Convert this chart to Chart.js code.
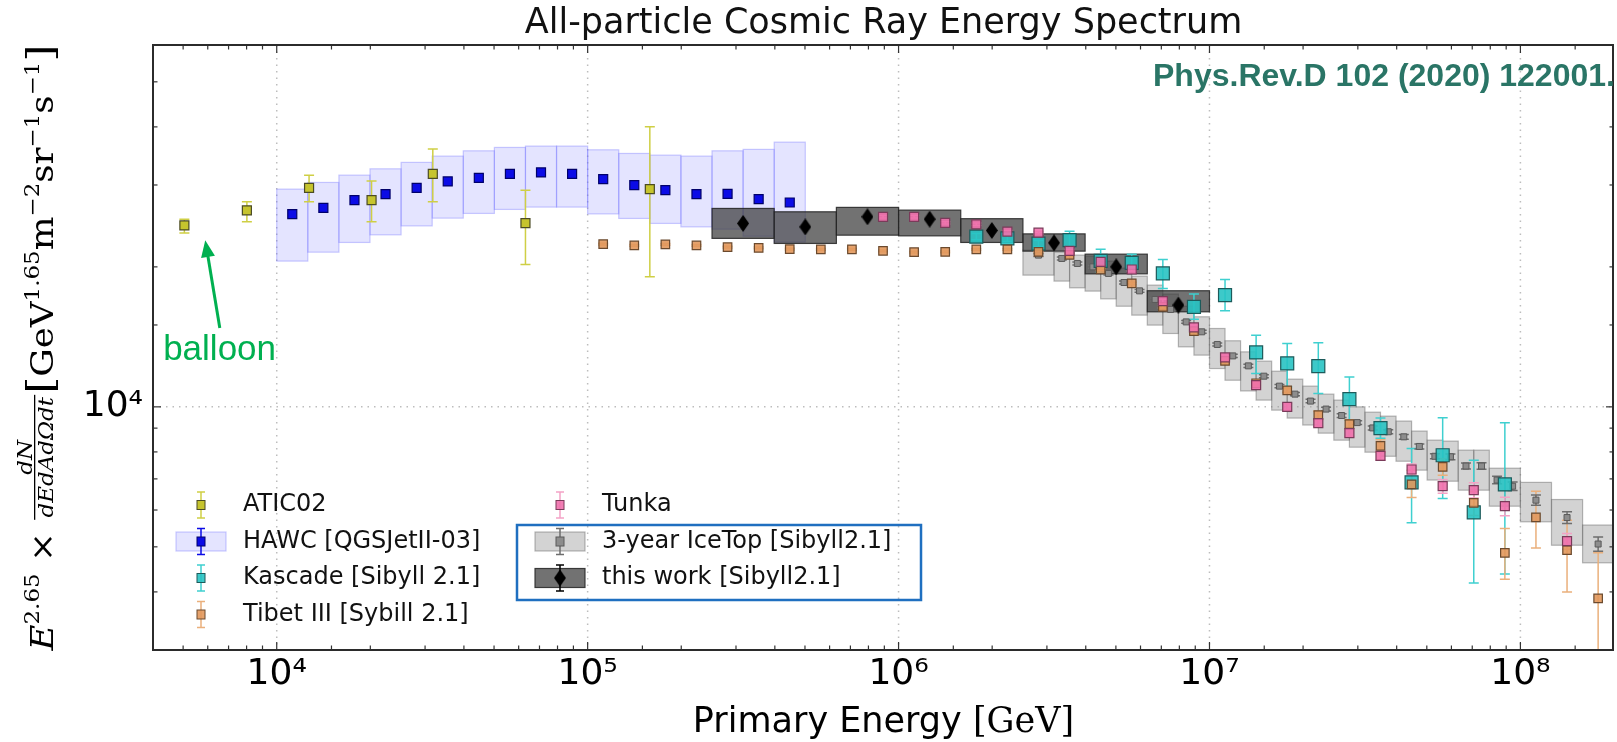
<!DOCTYPE html>
<html>
<head>
<meta charset="utf-8">
<title>All-particle Cosmic Ray Energy Spectrum</title>
<script src="https://cdn.jsdelivr.net/npm/chart.js@4.4.1/dist/chart.umd.min.js"></script>
<style>
  html, body { margin: 0; padding: 0; background: #fff; }
  canvas { display: block; }
</style>
</head>
<body>
<canvas id="spectrum" width="1617" height="742"></canvas>
<script>
// Energies are log10(E / GeV); fluxes are E^2.65 dN/dE in GeV^1.65 m^-2 sr^-1 s^-1

// ATIC-02 (balloon)
var aticLogE = [3.703, 3.904, 4.104, 4.305, 4.502, 4.800, 5.200];
var aticFlux = [24550, 26450, 29580, 27830, 31700, 24840, 29380];
var aticHi   = [25330, 27600, 31470, 30580, 35830, 29240, 40020];
var aticLo   = [23660, 25000, 27600, 25000, 27600, 20240, 19040];

// HAWC, 0.1 wide bins with systematic bands
var hawcLogE  = [4.05, 4.15, 4.25, 4.35, 4.45, 4.55, 4.65, 4.75, 4.85, 4.95, 5.05, 5.15, 5.25, 5.35, 5.45, 5.55, 5.65];
var hawcFlux  = [25970, 26790, 27830, 28670, 29580, 30530, 31080, 31700, 31920, 31700, 30880, 29980, 29240, 28670, 28710, 27970, 27510];
var hawcSysHi = [29390, 30380, 31500, 32500, 33550, 34610, 35530, 36130, 36370, 36370, 35710, 35070, 34780, 34610, 35530, 35780, 37090];
var hawcSysLo = [20580, 21510, 22570, 23440, 24500, 25460, 26060, 26580, 26890, 26890, 26000, 25420, 24800, 24380, 24110, 23280, 22610];
var hawcBinWidth = 0.1;

// KASCADE
var kascadeLogE = [6.25, 6.35, 6.45, 6.55, 6.65, 6.75, 6.85, 6.95, 7.05, 7.15, 7.25, 7.35, 7.45, 7.55, 7.65, 7.75, 7.85, 7.95];
var kascadeFlux = [23230, 23020, 22440, 22830, 20610, 20400, 19360, 16410, 17390, 13090, 12400, 12230, 10390, 9000, 6880, 7870, 5930, 6810];
var kascadeHi   = [23580, 23370, 22780, 23870, 21810, 21280, 20750, 17480, 18790, 14260, 13690, 13730, 11600, 9460, 8140, 9470, 7680, 9240];
var kascadeLo   = [22880, 22670, 22100, 21840, 19480, 19580, 17970, 15440, 16090, 11800, 11040, 10690, 9360, 8560, 5630, 6350, 4180, 4370];

// Tibet III
var tibetLogE = [5.05, 5.15, 5.25, 5.35, 5.45, 5.55, 5.65, 5.75, 5.85, 5.95, 6.05, 6.15, 6.25, 6.35, 6.45, 6.55, 6.65,
                 6.75, 6.85, 6.95, 7.05, 7.15, 7.25, 7.35, 7.45, 7.55, 7.65, 7.75, 7.85, 7.95, 8.05, 8.15, 8.25];
var tibetFlux = [22380, 22240, 22350, 22240, 22050, 21970, 21840, 21810, 21810, 21650, 21510, 21540, 21810, 21810, 21540, 21230, 19740,
                 18430, 16410, 14550, 12560, 11240, 10850, 9600, 9180, 8244, 6810, 7430, 6217, 4853, 5783, 4918, 3873];
var tibetErrHi = [100, 100, 100, 100, 100, 100, 100, 100, 100, 100, 100, 100, 100, 100, 100, 100, 100,
                  100, 100, 100, 100, 100, 100, 190, 200, 250, 500, 300, 350, 624, 804, 788, 980];
var tibetErrLo = [100, 100, 100, 100, 100, 100, 100, 100, 100, 100, 100, 100, 100, 100, 100, 100, 100,
                  100, 100, 100, 100, 100, 100, 190, 200, 250, 425, 300, 380, 593, 810, 918, 1073];

// Tunka-133
var tunkaLogE = [5.95, 6.05, 6.15, 6.25, 6.35, 6.45, 6.55, 6.65, 6.75, 6.85, 6.95, 7.05, 7.15, 7.25, 7.35, 7.45, 7.55,
                 7.65, 7.75, 7.85, 7.95, 8.15];
var tunkaFlux = [25630, 25630, 24870, 24690, 23810, 23690, 21650, 20500, 19740, 16880, 14820, 12770, 11140, 10000, 9225, 8780, 7845,
                 7333, 6752, 6620, 6115, 5143];
var tunkaErr  = [150, 150, 150, 150, 150, 150, 150, 150, 150, 150, 150, 150, 150, 150, 150, 160, 170,
                 200, 230, 250, 280, 200];

// IceTop 3-year, bin edges and systematic bands
var iceTopEdges = [6.40, 6.50, 6.55, 6.60, 6.65, 6.70, 6.75, 6.80, 6.85, 6.90, 6.95, 7.00, 7.05, 7.10, 7.15, 7.20, 7.25, 7.30,
                   7.35, 7.40, 7.45, 7.50, 7.55, 7.60, 7.65, 7.70, 7.75, 7.80, 7.85, 7.90, 7.95, 8.00, 8.10, 8.20, 8.30];
var iceTopFlux  = [21200, 20850, 20340, 20000, 19360, 18510, 17760, 17020, 16200, 15230, 14500, 13620, 12870, 12250, 11640, 11080, 10650,
                   10290, 9890, 9580, 9250, 9010, 8840, 8620, 8220, 7830, 7810, 7460, 7460, 6960, 6750, 6300, 5780, 5070];
var iceTopErr   = [150, 150, 150, 140, 140, 130, 130, 120, 120, 110, 110, 100, 100, 100, 90, 90, 90,
                   90, 90, 90, 90, 90, 90, 100, 100, 100, 110, 110, 120, 130, 140, 160, 170, 180];
var iceTopSysHi = [21730, 21510, 21200, 21090, 20580, 19880, 19100, 18270, 17480, 16460, 15620, 14740, 13870, 13130, 12540, 11930, 11470,
                   11080, 10650, 10340, 10000, 9740, 9550, 9320, 8870, 8480, 8440, 8070, 8070, 7380, 7380, 6880, 6320, 5570];
var iceTopSysLo = [19200, 18640, 18030, 17740, 17070, 16460, 15750, 14990, 14380, 13460, 12920, 12090, 11410, 10820, 10340, 9840, 9460,
                   9140, 8780, 8480, 8190, 7990, 7830, 7640, 7310, 6960, 6920, 6620, 6620, 6115, 6115, 5660, 5040, 4620];

// this work, 0.2 wide bins
var workLogE  = [5.5, 5.7, 5.9, 6.1, 6.3, 6.5, 6.7, 6.9];
var workFlux  = [24800, 24380, 25630, 25330, 23950, 22530, 20000, 16550];
var workSysHi = [26710, 26270, 26850, 26490, 25390, 23550, 21300, 17770];
var workSysLo = [23030, 22460, 23400, 23320, 22570, 21620, 19320, 16010];
var workBinWidth = 0.2;

// axis ranges (GeV and flux units)
var energyRange = [4000, 2e8];
var fluxRange = [3000, 60000];

// "balloon" note anchors in data units
var balloonTip = { x: 5890, y: 22830 };
var balloonTail = { x: 6560, y: 14770 };
var balloonText = { x: 6550, y: 12600 };

var SANS = "'DejaVu Sans', sans-serif";
var SERIF = "'DejaVu Serif', 'Liberation Serif', serif";
var SUPERSCRIPT = { '0': '\u2070', '1': '\u00b9', '2': '\u00b2', '3': '\u00b3', '4': '\u2074',
                    '5': '\u2075', '6': '\u2076', '7': '\u2077', '8': '\u2078', '9': '\u2079' };

function isDecade(v) {
  var l = Math.log10(v);
  return Math.abs(l - Math.round(l)) < 1e-9;
}
function decadeLabel(v) {
  if (!isDecade(v)) return '';
  return '10' + String(Math.round(Math.log10(v))).split('').map(function (c) { return SUPERSCRIPT[c]; }).join('');
}
function toPoints(logE, flux) {
  return logE.map(function (l, i) { return { x: Math.pow(10, l), y: flux[i] }; });
}
function plus(a, b) { return a.map(function (v, i) { return v + b[i]; }); }
function minus(a, b) { return a.map(function (v, i) { return v - b[i]; }); }
function side(s) { return s / Math.SQRT2; }

var diamond = (function () {
  var c = document.createElement('canvas');
  c.width = 12; c.height = 17;
  var g = c.getContext('2d');
  g.fillStyle = '#000';
  g.beginPath();
  g.moveTo(6, 0); g.lineTo(12, 8.5); g.lineTo(6, 17); g.lineTo(0, 8.5);
  g.closePath(); g.fill();
  return c;
})();

var datasets = [
  {
    label: 'ATIC02', data: toPoints(aticLogE, aticFlux), order: 5,
    pointStyle: 'rect', pointRadius: side(9), backgroundColor: '#c6c42e', borderColor: '#4b4b25', pointBorderWidth: 1.2,
    errHi: aticHi, errLo: aticLo, errColor: '#cfcf45'
  },
  {
    label: 'HAWC [QGSJetII-03]', data: toPoints(hawcLogE, hawcFlux), order: 4,
    pointStyle: 'rect', pointRadius: side(9), backgroundColor: '#0b0be6', borderColor: '#00006a', pointBorderWidth: 1.2,
    errColor: '#0b0be6',
    sysHi: hawcSysHi, sysLo: hawcSysLo,
    binLo: hawcLogE.map(function (l) { return l - hawcBinWidth / 2; }),
    binHi: hawcLogE.map(function (l) { return l + hawcBinWidth / 2; }),
    boxFill: 'rgba(120,120,255,0.2)', boxStroke: 'rgba(110,110,255,0.35)'
  },
  {
    label: 'Kascade [Sibyll 2.1]', data: toPoints(kascadeLogE, kascadeFlux), order: 3,
    pointStyle: 'rect', pointRadius: side(13), backgroundColor: 'rgba(40,195,195,0.9)', borderColor: '#1d5b5b', pointBorderWidth: 1.2,
    errHi: kascadeHi, errLo: kascadeLo, errColor: '#3fd0d0'
  },
  {
    label: 'Tibet III [Sybill 2.1]', data: toPoints(tibetLogE, tibetFlux), order: 2,
    pointStyle: 'rect', pointRadius: side(8.5), backgroundColor: 'rgba(226,152,92,0.9)', borderColor: '#6b4a2e', pointBorderWidth: 1.2,
    errHi: plus(tibetFlux, tibetErrHi), errLo: minus(tibetFlux, tibetErrLo), errColor: '#eab07c'
  },
  {
    label: 'Tunka', data: toPoints(tunkaLogE, tunkaFlux), order: 1,
    pointStyle: 'rect', pointRadius: side(9), backgroundColor: 'rgba(239,112,172,0.9)', borderColor: '#7a3b5a', pointBorderWidth: 1.2,
    errHi: plus(tunkaFlux, tunkaErr), errLo: minus(tunkaFlux, tunkaErr), errColor: '#f4a3c6'
  },
  {
    label: '3-year IceTop [Sibyll2.1]', order: 6,
    data: toPoints(iceTopEdges.slice(0, -1).map(function (l, i) { return (l + iceTopEdges[i + 1]) / 2; }), iceTopFlux),
    pointStyle: 'rect', pointRadius: side(6), backgroundColor: '#8d8d8d', borderColor: '#5a5a5a', pointBorderWidth: 1,
    errHi: plus(iceTopFlux, iceTopErr), errLo: minus(iceTopFlux, iceTopErr), errColor: '#6e6e6e',
    sysHi: iceTopSysHi, sysLo: iceTopSysLo,
    binLo: iceTopEdges.slice(0, -1), binHi: iceTopEdges.slice(1),
    boxFill: 'rgba(150,150,150,0.42)', boxStroke: 'rgba(100,100,100,0.45)'
  },
  {
    label: 'this work [Sibyll2.1]', data: toPoints(workLogE, workFlux), order: 0,
    pointStyle: diamond, pointRadius: 8, backgroundColor: '#000', borderColor: '#000',
    errColor: '#000',
    sysHi: workSysHi, sysLo: workSysLo,
    binLo: workLogE.map(function (l) { return l - workBinWidth / 2; }),
    binHi: workLogE.map(function (l) { return l + workBinWidth / 2; }),
    boxFill: 'rgba(60,60,60,0.72)', boxStroke: 'rgba(35,35,35,0.85)'
  }
];

// systematic boxes are painted in this order: IceTop, HAWC, this work
var boxOrder = [5, 1, 6];
var legendEntries = [
  { ds: 0, col: 0, row: 0 }, { ds: 1, col: 0, row: 1 }, { ds: 2, col: 0, row: 2 }, { ds: 3, col: 0, row: 3 },
  { ds: 4, col: 1, row: 0 }, { ds: 5, col: 1, row: 1 }, { ds: 6, col: 1, row: 2 }
];

function line(ctx, x0, y0, x1, y1) {
  ctx.beginPath(); ctx.moveTo(x0, y0); ctx.lineTo(x1, y1); ctx.stroke();
}
function errorBar(ctx, x, yTop, yBot, cap) {
  ctx.beginPath();
  ctx.moveTo(x, yTop); ctx.lineTo(x, yBot);
  ctx.moveTo(x - cap, yTop); ctx.lineTo(x + cap, yTop);
  ctx.moveTo(x - cap, yBot); ctx.lineTo(x + cap, yBot);
  ctx.stroke();
}

var underlayPlugin = {
  id: 'underlay',
  beforeDatasetsDraw: function (chart) {
    var ctx = chart.ctx, a = chart.chartArea, xs = chart.scales.x, ys = chart.scales.y;
    ctx.save();
    ctx.beginPath();
    ctx.rect(a.left, a.top, a.right - a.left, a.bottom - a.top);
    ctx.clip();

    // dotted grid at the decades
    ctx.setLineDash([1.5, 5]);
    ctx.strokeStyle = '#bdbdbd';
    ctx.lineWidth = 1.5;
    xs.ticks.forEach(function (t) {
      if (isDecade(t.value)) { var p = xs.getPixelForValue(t.value); line(ctx, p, a.top, p, a.bottom); }
    });
    ys.ticks.forEach(function (t) {
      if (isDecade(t.value)) { var p = ys.getPixelForValue(t.value); line(ctx, a.left, p, a.right, p); }
    });
    ctx.setLineDash([]);

    // systematic uncertainty boxes
    boxOrder.forEach(function (i) {
      var ds = chart.data.datasets[i];
      ctx.fillStyle = ds.boxFill;
      ctx.strokeStyle = ds.boxStroke;
      ctx.lineWidth = 1.2;
      ds.sysLo.forEach(function (lo, k) {
        var x0 = xs.getPixelForValue(Math.pow(10, ds.binLo[k]));
        var x1 = xs.getPixelForValue(Math.pow(10, ds.binHi[k]));
        var y0 = ys.getPixelForValue(ds.sysHi[k]);
        var y1 = ys.getPixelForValue(lo);
        ctx.fillRect(x0, y0, x1 - x0, y1 - y0);
        ctx.strokeRect(x0, y0, x1 - x0, y1 - y0);
      });
    });

    // statistical error bars
    chart.data.datasets.forEach(function (ds) {
      if (!ds.errHi) return;
      ctx.strokeStyle = ds.errColor;
      ctx.lineWidth = 1.5;
      ds.data.forEach(function (p, k) {
        var x = xs.getPixelForValue(p.x);
        errorBar(ctx, x, ys.getPixelForValue(ds.errHi[k]), ys.getPixelForValue(ds.errLo[k]), 5);
      });
    });
    ctx.restore();
  }
};

function drawFrame(chart) {
  var ctx = chart.ctx, a = chart.chartArea;
  ctx.save();
  ctx.strokeStyle = '#333';
  ctx.lineWidth = 1.2;
  ['x', 'y'].forEach(function (id) {
    var s = chart.scales[id];
    s.ticks.forEach(function (t) {
      var p = s.getPixelForValue(t.value), len = isDecade(t.value) ? 8 : 4.5;
      if (id === 'x') {
        if (p <= a.left + 1 || p >= a.right - 1) return;
        line(ctx, p, a.bottom, p, a.bottom - len);
        line(ctx, p, a.top, p, a.top + len);
      } else {
        if (p >= a.bottom - 1 || p <= a.top + 1) return;
        line(ctx, a.left, p, a.left + len, p);
        line(ctx, a.right, p, a.right - len, p);
      }
    });
  });
  ctx.lineWidth = 2;
  ctx.strokeStyle = '#2b2b2b';
  ctx.strokeRect(a.left, a.top, a.right - a.left - 1, a.bottom - a.top);
  ctx.restore();
}

function drawLegend(chart) {
  var ctx = chart.ctx, a = chart.chartArea;
  var colMarker = [a.left + 48, a.left + 407];
  var colText = [a.left + 90, a.left + 449];
  ctx.save();
  ctx.strokeStyle = '#1f6fc0';
  ctx.lineWidth = 2.5;
  ctx.strokeRect(a.left + 364, a.bottom - 125, 404, 75);
  legendEntries.forEach(function (e) {
    var ds = chart.data.datasets[e.ds];
    var x = colMarker[e.col], y = a.bottom - 145 + e.row * 36.5;
    if (ds.sysLo) {
      ctx.fillStyle = ds.boxFill;
      ctx.strokeStyle = ds.boxStroke;
      ctx.lineWidth = 1.2;
      ctx.fillRect(x - 25, y - 9.5, 50, 19);
      ctx.strokeRect(x - 25, y - 9.5, 50, 19);
    }
    ctx.strokeStyle = ds.errColor;
    ctx.lineWidth = 1.5;
    errorBar(ctx, x, y - 13, y + 13, 4);
    if (ds.pointStyle === diamond) {
      ctx.drawImage(diamond, x - 6, y - 8.5);
    } else {
      ctx.fillStyle = ds.backgroundColor;
      ctx.strokeStyle = ds.borderColor;
      ctx.lineWidth = 1;
      ctx.fillRect(x - 4, y - 4.5, 8, 9);
      ctx.strokeRect(x - 4, y - 4.5, 8, 9);
    }
    ctx.fillStyle = '#111';
    ctx.font = '24px ' + SANS;
    ctx.textAlign = 'left';
    ctx.textBaseline = 'middle';
    ctx.fillText(ds.label, colText[e.col], y);
  });
  ctx.restore();
}

function drawNotes(chart) {
  var ctx = chart.ctx, a = chart.chartArea, xs = chart.scales.x, ys = chart.scales.y;
  ctx.save();
  // journal reference, top right
  ctx.fillStyle = '#2a7566';
  ctx.font = "bold 32px 'Liberation Sans', Arial, sans-serif";
  ctx.textAlign = 'left';
  ctx.textBaseline = 'alphabetic';
  ctx.fillText('Phys.Rev.D 102 (2020) 122001.', a.left + 1000, a.top + 41);

  // balloon arrow
  var tx = xs.getPixelForValue(balloonTip.x), ty = ys.getPixelForValue(balloonTip.y);
  var sx = xs.getPixelForValue(balloonTail.x), sy = ys.getPixelForValue(balloonTail.y);
  var ang = Math.atan2(ty - sy, tx - sx), head = 17;
  ctx.strokeStyle = '#00b050';
  ctx.fillStyle = '#00b050';
  ctx.lineWidth = 3;
  line(ctx, sx, sy, tx - Math.cos(ang) * head * 0.8, ty - Math.sin(ang) * head * 0.8);
  ctx.beginPath();
  ctx.moveTo(tx, ty);
  ctx.lineTo(tx - head * Math.cos(ang) + 7 * Math.sin(ang), ty - head * Math.sin(ang) - 7 * Math.cos(ang));
  ctx.lineTo(tx - head * Math.cos(ang) - 7 * Math.sin(ang), ty - head * Math.sin(ang) + 7 * Math.cos(ang));
  ctx.closePath();
  ctx.fill();
  ctx.font = "35px 'Liberation Sans', Arial, sans-serif";
  ctx.textAlign = 'center';
  ctx.fillText('balloon', xs.getPixelForValue(balloonText.x), ys.getPixelForValue(balloonText.y));
  ctx.restore();
}

function drawAxisTitles(chart) {
  var ctx = chart.ctx, a = chart.chartArea;
  ctx.save();
  ctx.fillStyle = '#000';
  ctx.textBaseline = 'alphabetic';
  ctx.textAlign = 'left';

  // x title: sans text with a roman unit
  var left = 'Primary Energy ', unit = '[GeV]';
  ctx.font = '35px ' + SANS;
  var w1 = ctx.measureText(left).width;
  ctx.font = '35px ' + SERIF;
  var w2 = ctx.measureText(unit).width;
  var x0 = (a.left + a.right) / 2 - (w1 + w2) / 2;
  ctx.font = '35px ' + SANS;
  ctx.fillText(left, x0, a.bottom + 82);
  ctx.font = '35px ' + SERIF;
  ctx.fillText(unit, x0 + w1, a.bottom + 82);

  // y title: E^2.65 x dN/(dE dA dOmega dt) [GeV^1.65 m^-2 sr^-1 s^-1]
  var big = '31px ' + SERIF, sup = '20px ' + SERIF, br = '38px ' + SERIF;
  var parts = [
    { t: 'E', f: 'italic ' + big }, { t: '2.65', f: sup, rise: 14 }, { t: ' \u00d7 ', f: big },
    { num: 'dN', den: 'dEdAd\u03a9dt', f: 'italic 20px ' + SERIF },
    { t: '[', f: br }, { t: 'GeV', f: big }, { t: '1.65', f: sup, rise: 14 },
    { t: 'm', f: big }, { t: '\u22122', f: sup, rise: 14 }, { t: 'sr', f: big }, { t: '\u22121', f: sup, rise: 14 },
    { t: 's', f: big }, { t: '\u22121', f: sup, rise: 14 }, { t: ']', f: br }
  ];
  var total = 0;
  parts.forEach(function (p) {
    ctx.font = p.f;
    p.w = p.num ? Math.max(ctx.measureText(p.num).width, ctx.measureText(p.den).width) + 6 : ctx.measureText(p.t).width;
    total += p.w;
  });
  ctx.translate(a.left - 100, (a.top + a.bottom) / 2);
  ctx.rotate(-Math.PI / 2);
  ctx.scale((a.bottom - a.top + 1) / total, 1);
  var pos = -total / 2;
  parts.forEach(function (p) {
    ctx.font = p.f;
    if (p.num) {
      ctx.textAlign = 'center';
      ctx.fillText(p.num, pos + p.w / 2, -21);
      ctx.fillText(p.den, pos + p.w / 2, 0);
      ctx.fillRect(pos + 1, -19, p.w - 2, 1.3);
      ctx.textAlign = 'left';
    } else {
      ctx.fillText(p.t, pos, -(p.rise || 0));
    }
    pos += p.w;
  });
  ctx.restore();
}

var overlayPlugin = {
  id: 'overlay',
  afterDatasetsDraw: function (chart) {
    drawFrame(chart);
    drawNotes(chart);
    drawLegend(chart);
  },
  afterDraw: function (chart) {
    drawAxisTitles(chart);
  }
};

var tickFont = { family: SANS, size: 36 };

new Chart(document.getElementById('spectrum').getContext('2d'), {
  type: 'scatter',
  data: { datasets: datasets },
  options: {
    responsive: false,
    devicePixelRatio: 1,
    animation: false,
    events: [],
    layout: { padding: 0, autoPadding: false },
    scales: {
      x: {
        type: 'logarithmic', position: 'bottom',
        min: energyRange[0], max: energyRange[1],
        grid: { display: false, drawTicks: false },
        border: { display: false },
        ticks: { autoSkip: false, maxRotation: 0, minRotation: 0, padding: 3, color: '#000', font: tickFont, callback: decadeLabel },
        afterFit: function (s) { s.height = 92; }
      },
      y: {
        type: 'logarithmic', position: 'left',
        min: fluxRange[0], max: fluxRange[1],
        grid: { display: false, drawTicks: false },
        border: { display: false },
        ticks: { autoSkip: false, padding: 10, color: '#000', font: tickFont, callback: decadeLabel },
        afterFit: function (s) { s.width = 153; }
      }
    },
    plugins: {
      legend: { display: false },
      tooltip: { enabled: false },
      title: {
        display: true, fullSize: false,
        text: 'All-particle Cosmic Ray Energy Spectrum',
        color: '#111',
        font: { family: SANS, size: 35, weight: 'normal' },
        padding: { top: 3, bottom: 0 }
      }
    }
  },
  plugins: [underlayPlugin, overlayPlugin]
});
</script>
</body>
</html>
